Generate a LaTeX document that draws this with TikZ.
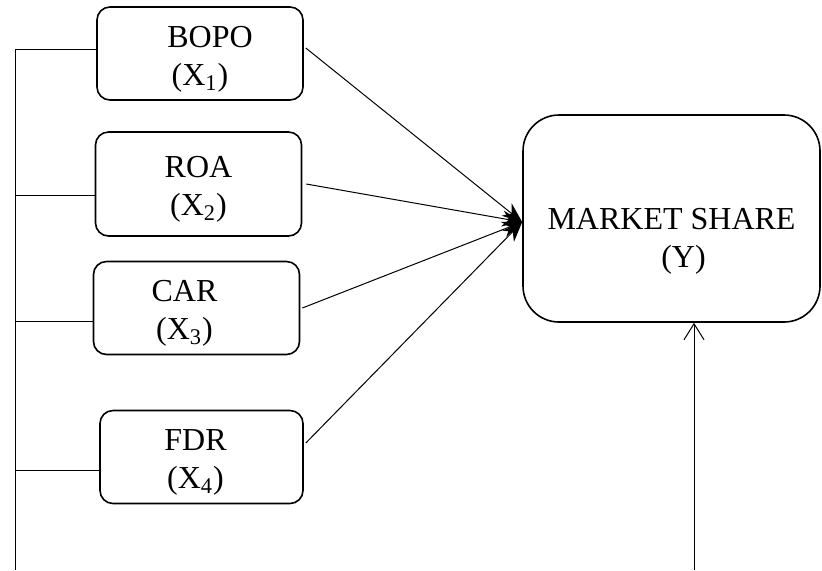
\documentclass[tikz,border=0pt]{standalone}
\usepackage{fontspec}
\setmainfont{Liberation Serif}
\usetikzlibrary{arrows.meta,calc,positioning}
\tikzstyle{l1}=[line width=0.5pt]
\tikzstyle{var}=[draw=black, line width=0.8pt, rounded corners=6.5pt, align=center, minimum width=103pt, minimum height=46.5pt, inner sep=0pt, font=\fontsize{16}{19}\selectfont, text height=34pt, text depth=2.5pt]
\tikzstyle{dep}=[var, rounded corners=18pt, minimum width=148.5pt, minimum height=103.5pt, text height=51pt, text depth=2.5pt]
\tikzstyle{effect}=[l1, -{Stealth[length=10pt,width=8pt]}]
\tikzstyle{feed}=[l1, -{Straight Barb[length=8pt,width=10pt]}]

\begin{document}
\begin{tikzpicture}[x=0.5pt, y=-0.5pt]
    \useasboundingbox (0,0) rectangle (822,570);

    \node[var] (x1) at (200,53.5) {\hspace*{10pt}BOPO\\(X\textsubscript{1})};
    \node[var, minimum height=52pt] (x2) at (198.5,184) {ROA\\(X\textsubscript{2})};
    \node[var] (x3) at (196.5,308) {\hspace*{-12pt}CAR\\\hspace*{-12pt}(X\textsubscript{3})};
    \node[var, minimum width=101.5pt] (x4) at (201.5,457) {\hspace*{-6pt}FDR\\\hspace*{-6pt}(X\textsubscript{4})};
    \node[dep] (y) at (671.5,218.5) {MARKET SHARE\\\hspace*{12pt}(Y)};

    % line on the left
    \coordinate (s1) at (15,49);
    \coordinate (s2) at (15,195);
    \coordinate (s3) at (15,321);
    \coordinate (s4) at (15,470);
    \coordinate (s5) at (15,570);
    \draw[l1] (s1) -- (s5);
    \foreach \i in {1,...,4}{
            \draw[l1] (s\i) -- (s\i -| x\i.west);
        }

    \coordinate (tip) at ([yshift=-1.75pt]y.west);
    \draw[effect] ([xshift=1pt, yshift=2.75pt]x1.east) -- (tip);
    \draw[effect] ([xshift=2pt]x2.east) -- (tip);
    \draw[effect] ([xshift=1pt]x3.east) -- (tip);
    \draw[effect] ([xshift=1pt, yshift=7pt]x4.east) -- (tip);

    \coordinate (b) at (694,570);
    \draw[feed] (b) -- (b |- y.south);

\end{tikzpicture}
\end{document}
